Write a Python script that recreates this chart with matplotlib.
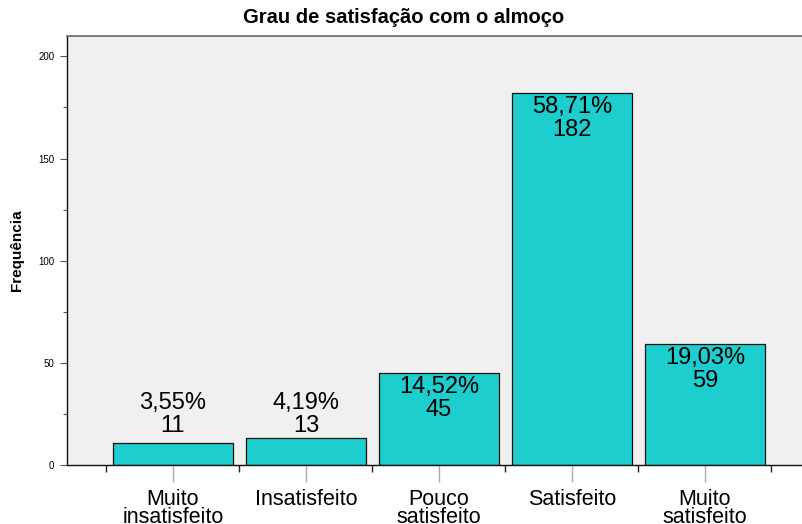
import matplotlib
matplotlib.use("Agg")
import matplotlib.pyplot as plt
from matplotlib.ticker import MultipleLocator, FixedLocator

plt.rcParams['font.family'] = ['Liberation Sans', 'DejaVu Sans']

categories = ["Muito\ninsatisfeito", "Insatisfeito", "Pouco\nsatisfeito", "Satisfeito", "Muito\nsatisfeito"]
counts = [11, 13, 45, 182, 59]
percents = ["3,55%", "4,19%", "14,52%", "58,71%", "19,03%"]

fig = plt.figure(figsize=(8.03, 5.24), dpi=100)
ax = fig.add_axes([67/803, 1-465/524, 1-67/803, (465-36)/524])
ax.set_facecolor('#f0f0f0')

x = list(range(len(categories)))
ax.bar(x, counts, width=0.9, color='#1ecece', edgecolor='#111111', linewidth=0.9, zorder=2)

for xi, c, p in zip(x, counts, percents):
    ypos = max(c, 37)
    ax.annotate(f"{p}\n{c}", (xi, ypos), xytext=(0, -2), textcoords='offset points',
                ha='center', va='top', fontsize=17, linespacing=1.05, zorder=3)

ax.set_xlim(-0.797, 4.737)
ax.set_ylim(0, 210)

ax.yaxis.set_major_locator(MultipleLocator(50))
ax.yaxis.set_minor_locator(MultipleLocator(25))
ax.tick_params(axis='y', which='major', length=5, width=0.8, color='#555555', labelsize=7, pad=4)
ax.tick_params(axis='y', which='minor', length=3, width=0.8, color='#555555')

ax.set_xticks(x)
ax.set_xticklabels(categories, fontsize=15.5, linespacing=0.86)
ax.xaxis.set_minor_locator(FixedLocator([i - 0.5 for i in range(len(categories) + 1)]))
ax.tick_params(axis='x', which='major', length=12, width=1, color='#aaaaaa', pad=5)
ax.tick_params(axis='x', which='minor', length=5, width=1, color='#222222')

for s in ['left', 'bottom']:
    ax.spines[s].set_color('#111111')
    ax.spines[s].set_linewidth(1)
ax.spines['top'].set_color('#666666')
ax.spines['top'].set_linewidth(1.2)
ax.spines['right'].set_visible(False)

ax.set_ylabel("Frequência", fontsize=11, fontweight='bold', labelpad=10)
fig.suptitle("Grau de satisfação com o almoço", fontsize=14.5, fontweight='bold',
             x=0.503, y=1 - 8/524, va='top')

fig.savefig("out.png", dpi=100)
